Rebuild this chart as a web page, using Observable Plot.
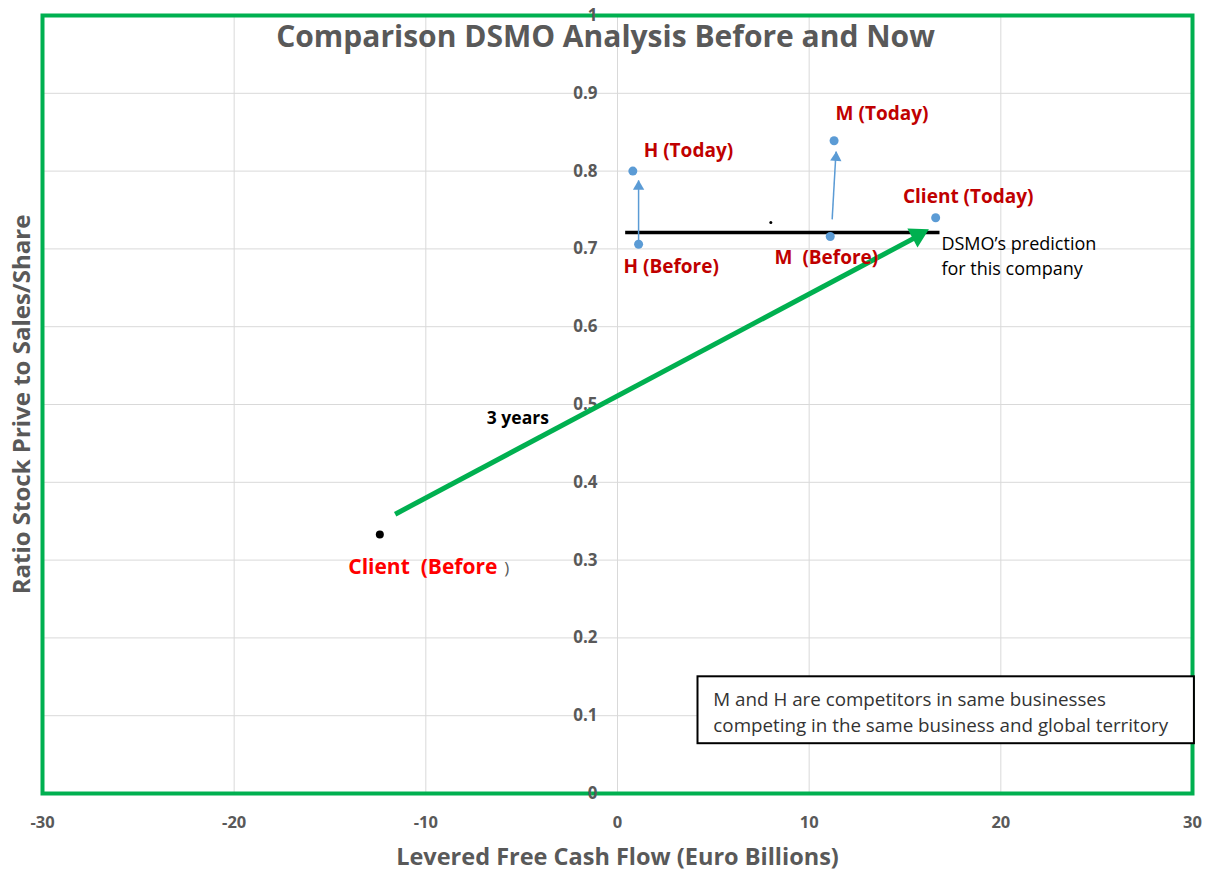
<!DOCTYPE html>
<html><head><meta charset="utf-8">
<script src="https://cdn.jsdelivr.net/npm/d3@7"></script>
<script src="https://cdn.jsdelivr.net/npm/@observablehq/plot@0.6"></script>
<style>body{margin:0;background:#fff;font-family:"Open Sans",sans-serif}</style>
</head><body><div id="chart"></div>
<script>
// ---- data ----
const xTicks = [-30, -20, -10, 0, 10, 20, 30];
const yTicks = [0, 0.1, 0.2, 0.3, 0.4, 0.5, 0.6, 0.7, 0.8, 0.9, 1];
const yTickLabels = ["0", "0.1", "0.2", "0.3", "0.4", "0.5", "0.6", "0.7", "0.8", "0.9", "1"];
const pointNames = ["H (Before)", "H (Today)", "M (Before)", "M (Today)", "Client (Today)"];
const pointX = [1.1, 0.8, 11.1, 11.3, 16.6];
const pointY = [0.706, 0.80, 0.716, 0.839, 0.74];
const clientBeforeX = -12.4;
const clientBeforeY = 0.333;
const strayX = 8.0;
const strayY = 0.734;
const predictionY = 0.721;
const predictionFrom = 0.4;
const predictionTo = 16.8;
const trendFrom = [-11.6, 0.359];
const trendShaftEnd = [15.8, 0.718];
const trendTo = [16.3, 0.726];
const blueArrowsFrom = [[1.1, 0.702], [11.2, 0.738]];
const blueArrowsTo = [[1.1, 0.788], [11.4, 0.825]];
const labelTexts = ["H (Today)", "H (Before)", "M (Today)", "M  (Before)", "Client (Today)"];
const labelX = [3.7, 2.8, 13.8, 10.9, 18.3];
const labelY = [0.826, 0.677, 0.873, 0.689, 0.767];
const noteLines = ["M and H are competitors in same businesses", "competing in the same business and global territory"];
const predictionText = "DSMO\u2019s prediction\nfor this company";

const gray = "#595959";
const red = "#c00000";
const blue = "#5b9bd5";
const green = "#00b050";
const FONT = "'Open Sans', sans-serif";

const pts = pointNames.map((n, i) => ({name: n, x: pointX[i], y: pointY[i]}));
const labels = labelTexts.map((t, i) => ({t, x: labelX[i], y: labelY[i]}));
const arrows = blueArrowsFrom.map((f, i) => ({x1: f[0], y1: f[1], x2: blueArrowsTo[i][0], y2: blueArrowsTo[i][1]}));

const chart = Plot.plot({
  width: 1211,
  height: 873,
  marginLeft: 42,
  marginRight: 19,
  marginTop: 15,
  marginBottom: 80,
  x: {domain: [-30, 30], axis: null},
  y: {domain: [0, 1], axis: null},
  style: {fontFamily: FONT, background: "#fff"},
  marks: [
    Plot.gridX(xTicks, {stroke: "#d9d9d9", strokeOpacity: 1, strokeWidth: 1}),
    Plot.gridY(yTicks, {stroke: "#d9d9d9", strokeOpacity: 1, strokeWidth: 1}),
    Plot.frame({stroke: green, strokeWidth: 4}),
    // y tick labels at x = 0
    Plot.text(yTicks, {x: 0, y: d => d, text: (d, i) => yTickLabels[i], dx: -20, textAnchor: "end", fontSize: 17, fontWeight: "bold", fill: gray}),
    // x tick labels
    Plot.text(xTicks, {x: d => d, frameAnchor: "bottom", dy: 29, lineAnchor: "middle", text: d => String(d), fontSize: 16.5, fontWeight: "bold", fill: gray}),
    // axis titles
    Plot.text(["Levered Free Cash Flow (Euro Billions)"], {frameAnchor: "bottom", lineAnchor: "middle", dy: 64, text: d => d, fontSize: 23.5, fontWeight: "bold", fill: gray}),
    Plot.text(["Ratio Stock Prive to Sales/Share"], {frameAnchor: "left", textAnchor: "middle", lineAnchor: "middle", dx: -20, rotate: -90, text: d => d, fontSize: 24, fontWeight: "bold", fill: gray}),
    // title
    Plot.text(["Comparison DSMO Analysis Before and Now"], {frameAnchor: "top", lineAnchor: "middle", dy: 22, dx: -12, text: d => d, fontSize: 30, fontWeight: "bold", fill: gray}),
    // prediction line
    Plot.link([0], {x1: predictionFrom, x2: predictionTo, y1: predictionY, y2: predictionY, stroke: "#000", strokeWidth: 3.5}),
    // green trend arrow
    Plot.link([0], {x1: trendFrom[0], y1: trendFrom[1], x2: trendShaftEnd[0], y2: trendShaftEnd[1], stroke: green, strokeWidth: 5}),
    Plot.dot([0], {x: trendTo[0], y: trendTo[1], dx: -12, dy: 6.5, symbol: "triangle", r: 8, rotate: 62, fill: green, stroke: "none"}),
    // blue arrows
    Plot.link(arrows, {x1: "x1", y1: "y1", x2: "x2", y2: "y2", stroke: blue, strokeWidth: 1.5}),
    Plot.dot(arrows, {x: "x2", y: "y2", dy: 6, symbol: "triangle", r: 4.2, rotate: (d, i) => i === 1 ? 3 : 0, fill: blue, stroke: "none"}),
    // points
    Plot.dot(pts, {x: "x", y: "y", r: 4.5, fill: blue, stroke: "none"}),
    Plot.dot([0], {x: clientBeforeX, y: clientBeforeY, r: 4, fill: "#000"}),
    Plot.dot([0], {x: strayX, y: strayY, r: 1.5, fill: "#000"}),
    // labels
    Plot.text(labels, {x: "x", y: "y", text: "t", fontSize: 19, fontWeight: "bold", fill: red}),
    Plot.text(["Client  (Before"], {x: clientBeforeX, y: clientBeforeY, dx: 43, dy: 33, text: d => d, fontSize: 21, fontWeight: "bold", fill: "#ff0000"}),
    Plot.text([")"], {x: clientBeforeX, y: clientBeforeY, dx: 127, dy: 34, text: d => d, fontSize: 17, fill: gray}),
    Plot.text(["3 years"], {x: -5.2, y: 0.482, text: d => d, fontSize: 17.5, fontWeight: "bold", fill: "#000"}),
    Plot.text([predictionText], {x: 16.9, y: predictionY, dy: 22, textAnchor: "start", lineHeight: 1.4, text: d => d, fontSize: 18, fill: "#000"}),
    // note box
    Plot.rect([0], {x1: 4.2, x2: 30.1, y1: 0.064, y2: 0.150, fill: "#fff", stroke: "#000", strokeWidth: 2}),
    Plot.text([noteLines.join("\n")], {x: 5, y: 0.107, textAnchor: "start", lineHeight: 1.4, text: d => d, fontSize: 18.8, fill: "#333"})
  ]
});
document.getElementById("chart").append(chart);
</script>
</body></html>
